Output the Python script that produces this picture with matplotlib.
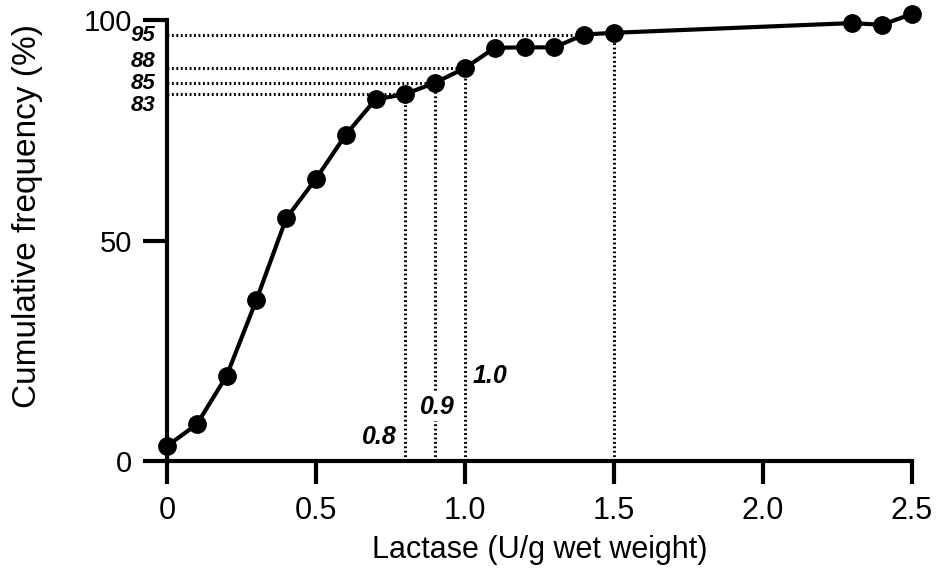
# Cumulative frequency of lactase activity, with dotted guide lines at the cut-offs
import matplotlib
matplotlib.use("Agg")
import matplotlib.pyplot as plt

plt.rcParams["font.family"] = ["Liberation Sans", "DejaVu Sans"]

# lactase activity (U/g wet weight) and cumulative frequency (%)
lactase = [0.0, 0.1, 0.2, 0.3, 0.4, 0.5, 0.6, 0.7, 0.8, 0.9, 1.0,
           1.1, 1.2, 1.3, 1.4, 1.5, 2.3, 2.4, 2.5]
cum_freq = [3.4, 8.3, 19.3, 36.5, 55.0, 64.0, 74.0, 82.0, 83.2, 85.8, 89.1,
            93.7, 93.8, 93.8, 96.7, 97.1, 99.3, 98.9, 101.4]

# guide lines: horizontal ones run from the y axis to these points,
# vertical ones drop from these points to the x axis
hguide_x = [1.4, 1.0, 0.9, 0.8]
vguide_x = [0.8, 0.9, 1.0, 1.5]

# annotation texts
pct_labels = ["95", "88", "85", "83"]
pct_label_y = [96.4, 90.7, 85.7, 80.5]
cut_labels = ["0.8", "0.9", "1.0"]

xticks = [0, 0.5, 1.0, 1.5, 2.0, 2.5]
xtick_labels = ["0", "0.5", "1.0", "1.5", "2.0", "2.5"]
yticks = [0, 50, 100]


def y_at(x):
    return cum_freq[min(range(len(lactase)), key=lambda i: abs(lactase[i] - x))]


fig = plt.figure(figsize=(9.37, 5.78), dpi=100)
ax = fig.add_axes([0.1782, 0.2024, 0.7951, 0.7630])

dotted = dict(color="black", linewidth=2.2, linestyle=(0, (0.6, 0.85)), zorder=1)
for gx in hguide_x:
    ax.plot([0, gx], [y_at(gx), y_at(gx)], **dotted)
for gx in vguide_x:
    ax.plot([gx, gx], [0, y_at(gx)], **dotted)

ax.plot(lactase, cum_freq, color="black", linewidth=3.0, marker="o",
        markersize=12.5, clip_on=False, zorder=3)

ax.set_xlim(0, 2.5)
ax.set_ylim(0, 100)
ax.set_xticks(xticks)
ax.set_xticklabels(xtick_labels)
ax.set_yticks(yticks)

for side in ("top", "right"):
    ax.spines[side].set_visible(False)
for side in ("left", "bottom"):
    ax.spines[side].set_linewidth(3.0)

ax.tick_params(axis="x", direction="out", length=16.5, width=3.0, labelsize=22, pad=9)
ax.tick_params(axis="y", direction="out", length=17, width=3.0, labelsize=21, pad=8)

ax.set_xlabel("Lactase (U/g wet weight)", fontsize=22)
ax.xaxis.set_label_coords(0.5, -0.168)
ax.set_ylabel("Cumulative frequency (%)", fontsize=24)
ax.yaxis.set_label_coords(-0.166, 0.555)

ital = dict(fontstyle="italic", fontweight="bold", color="black")
for txt, ty in zip(pct_labels, pct_label_y):
    ax.text(-0.04, ty, txt, ha="right", va="center", fontsize=16, clip_on=False, **ital)

ax.text(0.77, 5.4, cut_labels[0], ha="right", va="center", fontsize=18, **ital)
ax.text(0.906, 12.2, cut_labels[1], ha="center", va="center", fontsize=18,
        bbox=dict(facecolor="white", edgecolor="none", pad=1.5), zorder=2, **ital)
ax.text(1.027, 19.3, cut_labels[2], ha="left", va="center", fontsize=18, **ital)

fig.savefig("out.png", dpi=100, facecolor="white")
